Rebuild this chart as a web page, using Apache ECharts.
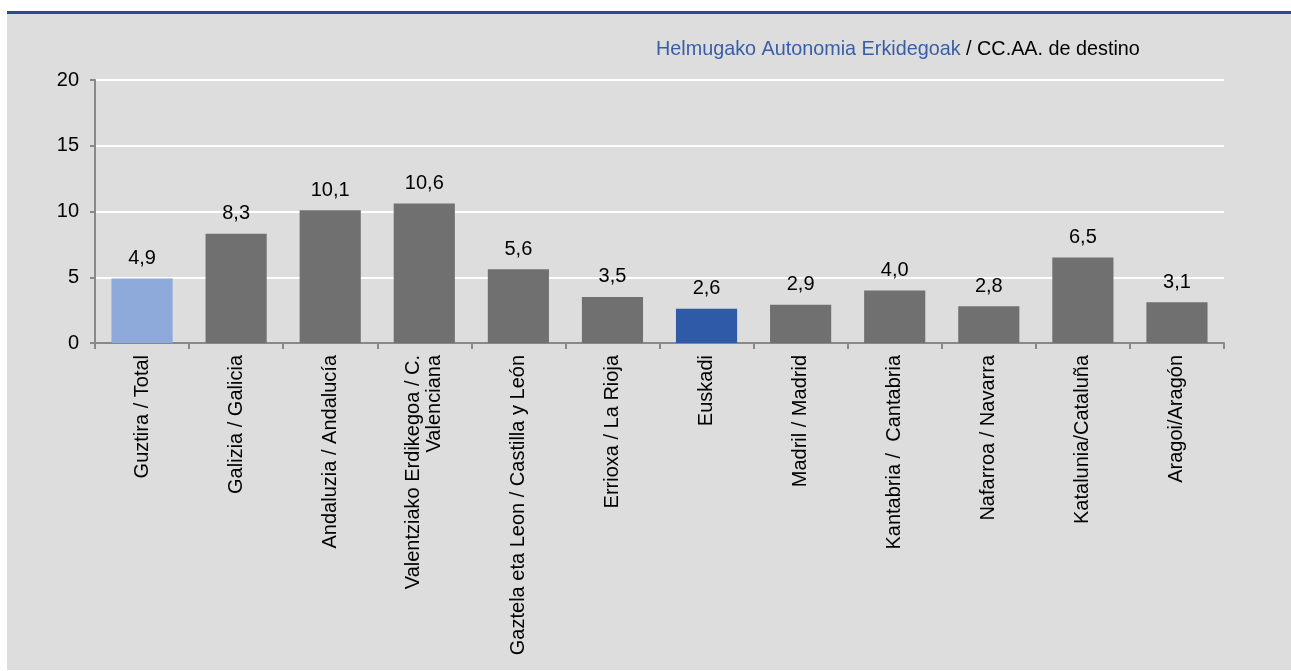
<!DOCTYPE html>
<html>
<head>
<meta charset="utf-8">
<script src="https://cdn.jsdelivr.net/npm/echarts@6/dist/echarts.min.js"></script>
<style>
  html, body { margin: 0; padding: 0; background: #fff; }
  .frame { position: absolute; left: 7px; top: 11px; right: 0; bottom: 1px; background: #dddddd; border-top: 3px solid #2d4b8c; }
  .chart { position: absolute; left: 0; top: 0; width: 1291px; height: 671px; }
</style>
</head>
<body>
<div class="frame"></div>
<div class="chart"></div>
<script>
// categories and values
const categories = [
    'Guztira / Total',
    'Galizia / Galicia',
    'Andaluzia / Andalucía',
    'Valentziako Erdikegoa / C.\nValenciana',
    'Gaztela eta Leon / Castilla y León',
    'Errioxa / La Rioja',
    'Euskadi',
    'Madril / Madrid',
    'Kantabria /  Cantabria',
    'Nafarroa / Navarra',
    'Katalunia/Cataluña',
    'Aragoi/Aragón'
];
const values = [4.9, 8.3, 10.1, 10.6, 5.6, 3.5, 2.6, 2.9, 4.0, 2.8, 6.5, 3.1];
const yTicks = [0, 5, 10, 15, 20];

const FONT = 'Liberation Sans, Arial, sans-serif';

const colorFor = (name) => {
    if (name === 'Guztira / Total') return '#8eaadb';
    if (name === 'Euskadi') return '#2f5aa8';
    return '#707070';
};

let myChart = echarts.init(document.querySelector('.chart'));
myChart.setOption({
    backgroundColor: 'transparent',
    textStyle: { fontFamily: FONT },
    title: {
        text: '{a|Helmugako Autonomia Erkidegoak}{b| / CC.AA. de destino}',
        left: 651,
        top: 35,
        textStyle: {
            rich: {
                a: { color: '#3a5ea6', fontSize: 19.8, fontWeight: 'normal', fontFamily: FONT },
                b: { color: '#000', fontSize: 19.8, fontWeight: 'normal', fontFamily: FONT }
            }
        }
    },
    grid: { left: 95, right: 67, top: 80, bottom: 328 },
    xAxis: {
        type: 'category',
        data: categories,
        axisLine: { lineStyle: { color: '#888', width: 2 } },
        axisTick: { show: true, length: 6, lineStyle: { color: '#888', width: 2 } },
        axisLabel: {
            rotate: 90,
            interval: 0,
            margin: 12,
            color: '#000',
            fontSize: 20,
            lineHeight: 21,
            fontFamily: FONT
        }
    },
    yAxis: {
        type: 'value',
        min: yTicks[0],
        max: yTicks[yTicks.length - 1],
        interval: yTicks[1] - yTicks[0],
        axisLine: { show: true, lineStyle: { color: '#888', width: 2 } },
        axisTick: { show: true, length: 5, lineStyle: { color: '#888', width: 2 } },
        axisLabel: { color: '#000', fontSize: 20, margin: 16, fontFamily: FONT },
        splitLine: { lineStyle: { color: '#fff', width: 2 } }
    },
    series: [
        {
            type: 'bar',
            barCategoryGap: '35%',
            data: values.map((v, i) => ({
                value: v,
                itemStyle: { color: colorFor(categories[i]) }
            })),
            label: {
                show: true,
                position: 'top',
                distance: 10,
                color: '#000',
                fontSize: 20,
                fontFamily: FONT,
                formatter: (p) => p.value.toFixed(1).replace('.', ',')
            }
        }
    ]
});
</script>
</body>
</html>
